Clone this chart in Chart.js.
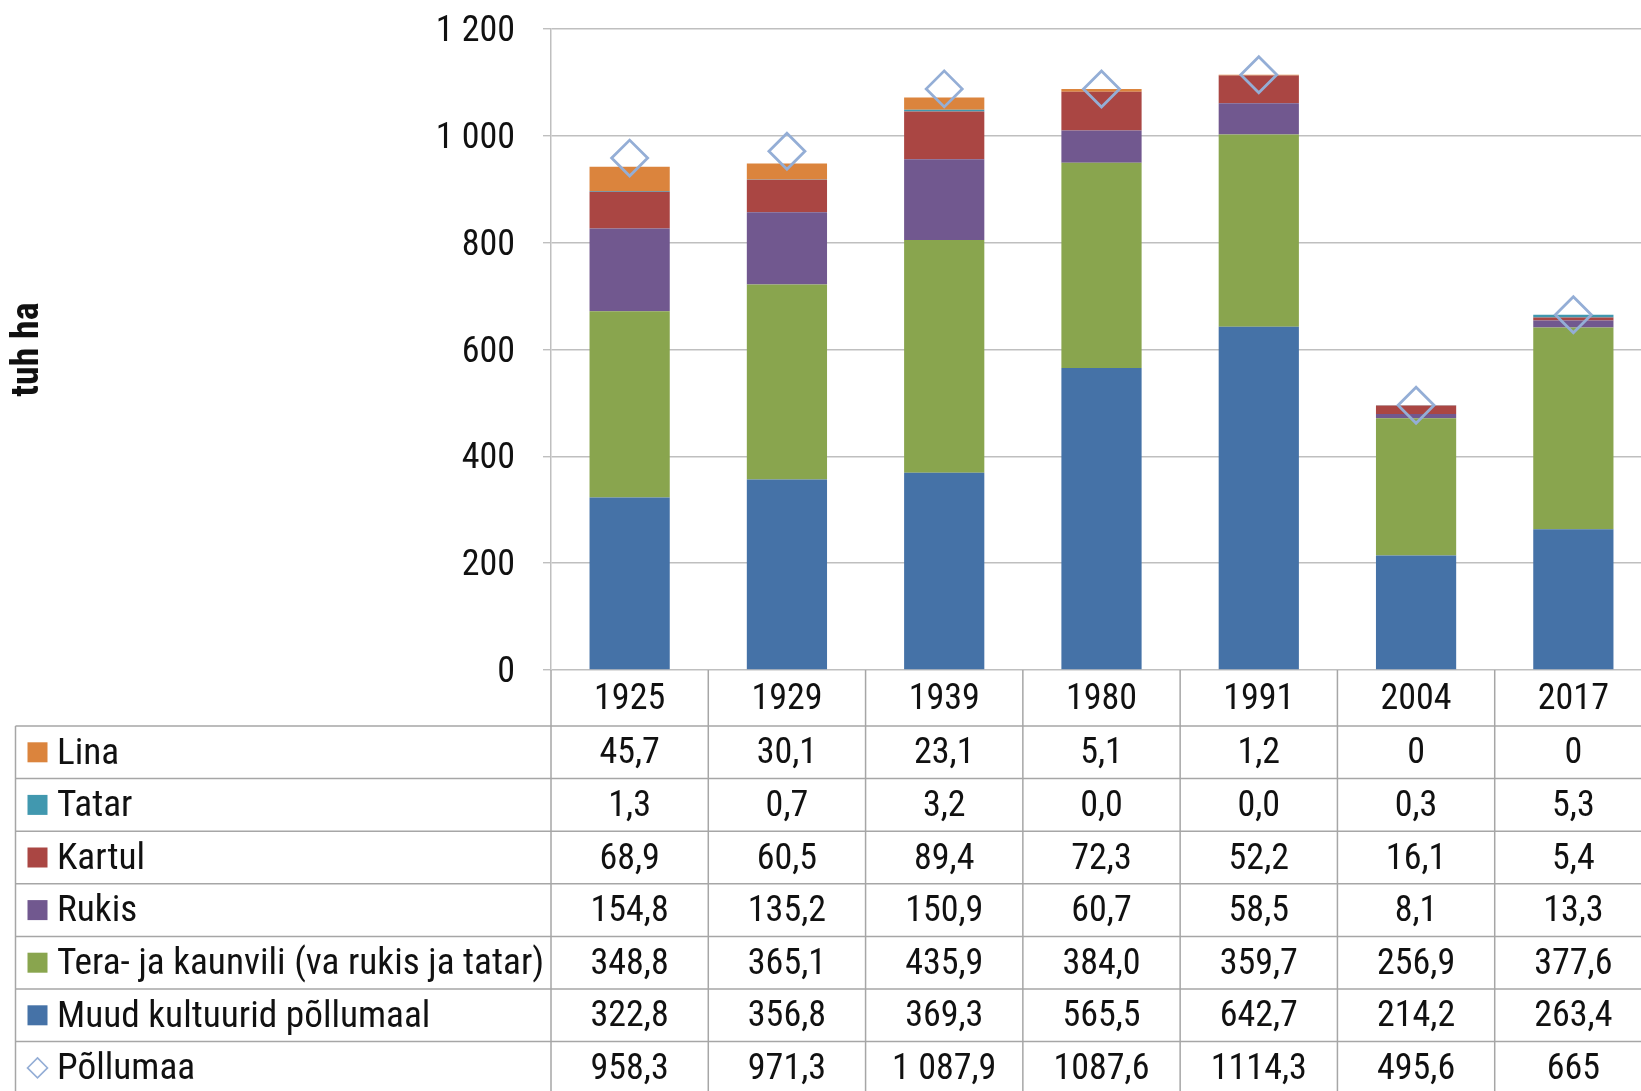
<!DOCTYPE html>
<html>
<head>
<meta charset="utf-8">
<script src="https://cdn.jsdelivr.net/npm/chart.js@4"></script>
<style>
  html, body { margin: 0; padding: 0; overflow: hidden; background: #ffffff; }
  #c { display: block; }
</style>
</head>
<body>
<canvas id="c" width="1660" height="1091"></canvas>
<script>
// Külvipind põllukultuuride kaupa, tuh ha
const years = ['1925', '1929', '1939', '1980', '1991', '2004', '2017'];
const linaText     = ['45,7', '30,1', '23,1', '5,1', '1,2', '0', '0'];
const tatarText    = ['1,3', '0,7', '3,2', '0,0', '0,0', '0,3', '5,3'];
const kartulText   = ['68,9', '60,5', '89,4', '72,3', '52,2', '16,1', '5,4'];
const rukisText    = ['154,8', '135,2', '150,9', '60,7', '58,5', '8,1', '13,3'];
const teraText     = ['348,8', '365,1', '435,9', '384,0', '359,7', '256,9', '377,6'];
const muudText     = ['322,8', '356,8', '369,3', '565,5', '642,7', '214,2', '263,4'];
const pollumaaText = ['958,3', '971,3', '1 087,9', '1087,6', '1114,3', '495,6', '665'];
const yTicks = [0, 200, 400, 600, 800, 1000, 1200];

const num = s => parseFloat(s.replace(/\s/g, '').replace(',', '.'));

const FONT = "'Roboto Condensed', 'Liberation Sans Narrow', 'Arial Narrow', 'DejaVu Sans Condensed', Roboto, sans-serif";
const GRID = '#bfbfbf';
const TABLE_LINE = '#a6a6a6';
const TEXT = '#111111';

// table rows, top to bottom, as printed below the plot
const rows = [
  { label: 'Lina', text: linaText, color: '#db843d' },
  { label: 'Tatar', text: tatarText, color: '#4198af' },
  { label: 'Kartul', text: kartulText, color: '#aa4643' },
  { label: 'Rukis', text: rukisText, color: '#71588f' },
  { label: 'Tera- ja kaunvili (va rukis ja tatar)', text: teraText, color: '#89a54e' },
  { label: 'Muud kultuurid põllumaal', text: muudText, color: '#4572a7' },
  { label: 'Põllumaa', text: pollumaaText, color: '#94aed6', marker: true }
];

// stacked bars from the bottom up
const barRows = rows.filter(r => !r.marker).slice().reverse();
const datasets = barRows.map(r => ({
  type: 'bar',
  label: r.label,
  data: r.text.map(num),
  backgroundColor: r.color,
  borderWidth: 0,
  stack: 'kultuurid',
  order: 1,
  categoryPercentage: 1,
  barPercentage: 0.51
}));
const markerRow = rows[rows.length - 1];
datasets.push({
  type: 'line',
  label: markerRow.label,
  data: markerRow.text.map(num),
  showLine: false,
  stack: 'kokku',
  order: 0,
  clip: false,
  pointStyle: 'rectRot',
  pointRadius: 18,
  pointHoverRadius: 18,
  pointBackgroundColor: 'rgba(255,255,255,0)',
  pointBorderColor: markerRow.color,
  pointBorderWidth: 2.8
});

const TABLE = { left: 15.5, yearTop: 670, firstRow: 726, rowH: 52.6, valueSize: 36, labelSize: 37.3 };

const dataTable = {
  id: 'dataTable',
  afterDraw(chart) {
    const ctx = chart.ctx;
    const x = chart.scales.x;
    const area = chart.chartArea;
    const n = years.length;
    const colW = (area.right - area.left) / n;
    const right = area.right;
    const bottom = TABLE.firstRow + rows.length * TABLE.rowH;

    ctx.save();
    ctx.strokeStyle = TABLE_LINE;
    ctx.lineWidth = 1.5;
    // horizontal lines
    ctx.beginPath();
    for (let i = 0; i <= rows.length; i++) {
      const y = TABLE.firstRow + i * TABLE.rowH;
      ctx.moveTo(TABLE.left, y);
      ctx.lineTo(right + 2, y);
    }
    // left border
    ctx.moveTo(TABLE.left, TABLE.firstRow);
    ctx.lineTo(TABLE.left, bottom);
    // column borders
    for (let k = 0; k <= n; k++) {
      const cx = area.left + k * colW;
      ctx.moveTo(cx, k === 0 ? area.bottom : TABLE.yearTop);
      ctx.lineTo(cx, bottom);
    }
    ctx.stroke();

    ctx.fillStyle = TEXT;
    ctx.font = TABLE.valueSize + 'px ' + FONT;
    ctx.textAlign = 'center';
    ctx.textBaseline = 'middle';
    // year header
    years.forEach((yr, i) => {
      ctx.fillText(yr, x.getPixelForValue(i), (TABLE.yearTop + TABLE.firstRow) / 2 + 2);
    });
    // values
    rows.forEach((r, ri) => {
      const cy = TABLE.firstRow + ri * TABLE.rowH + TABLE.rowH / 2 + 2;
      r.text.forEach((t, i) => ctx.fillText(t, x.getPixelForValue(i), cy));
    });
    // legend keys and row labels
    ctx.textAlign = 'left';
    ctx.font = TABLE.labelSize + 'px ' + FONT;
    rows.forEach((r, ri) => {
      const cy = TABLE.firstRow + ri * TABLE.rowH + TABLE.rowH / 2;
      if (r.marker) {
        ctx.strokeStyle = r.color;
        ctx.lineWidth = 1.6;
        ctx.beginPath();
        ctx.moveTo(37.5, cy - 10);
        ctx.lineTo(47.5, cy);
        ctx.lineTo(37.5, cy + 10);
        ctx.lineTo(27.5, cy);
        ctx.closePath();
        ctx.stroke();
      } else {
        ctx.fillStyle = r.color;
        ctx.fillRect(27.5, cy - 10, 20, 20);
      }
      ctx.fillStyle = TEXT;
      ctx.fillText(r.label, 57, cy + 2);
    });
    ctx.restore();
  }
};

const fmtThousands = v => String(v).replace(/\B(?=(\d{3})+(?!\d))/g, ' ');

new Chart(document.getElementById('c'), {
  type: 'bar',
  data: { labels: years, datasets },
  options: {
    responsive: false,
    animation: false,
    events: [],
    layout: { autoPadding: false, padding: { left: 0, right: 8, top: 29, bottom: 421 } },
    plugins: {
      legend: { display: false },
      tooltip: { enabled: false },
      title: { display: false }
    },
    scales: {
      x: {
        display: false,
        stacked: true,
        offset: true
      },
      y: {
        stacked: true,
        min: 0,
        max: 1200,
        afterBuildTicks: s => { s.ticks = yTicks.map(v => ({ value: v })); },
        afterFit: s => { s.width = 551; s.paddingTop = 0; s.paddingBottom = 0; },
        border: { display: true, color: GRID, width: 1.5 },
        grid: { color: GRID, lineWidth: 1.4, tickLength: 8, drawTicks: true },
        ticks: {
          padding: 28,
          labelOffset: 3,
          color: TEXT,
          font: { family: FONT, size: 36 },
          callback: v => fmtThousands(v)
        },
        title: {
          display: true,
          text: 'tuh ha',
          color: TEXT,
          font: { family: FONT, size: 38, weight: 'bold' },
          padding: { top: 6, bottom: 0 }
        }
      }
    }
  },
  plugins: [dataTable]
});
</script>
</body>
</html>
